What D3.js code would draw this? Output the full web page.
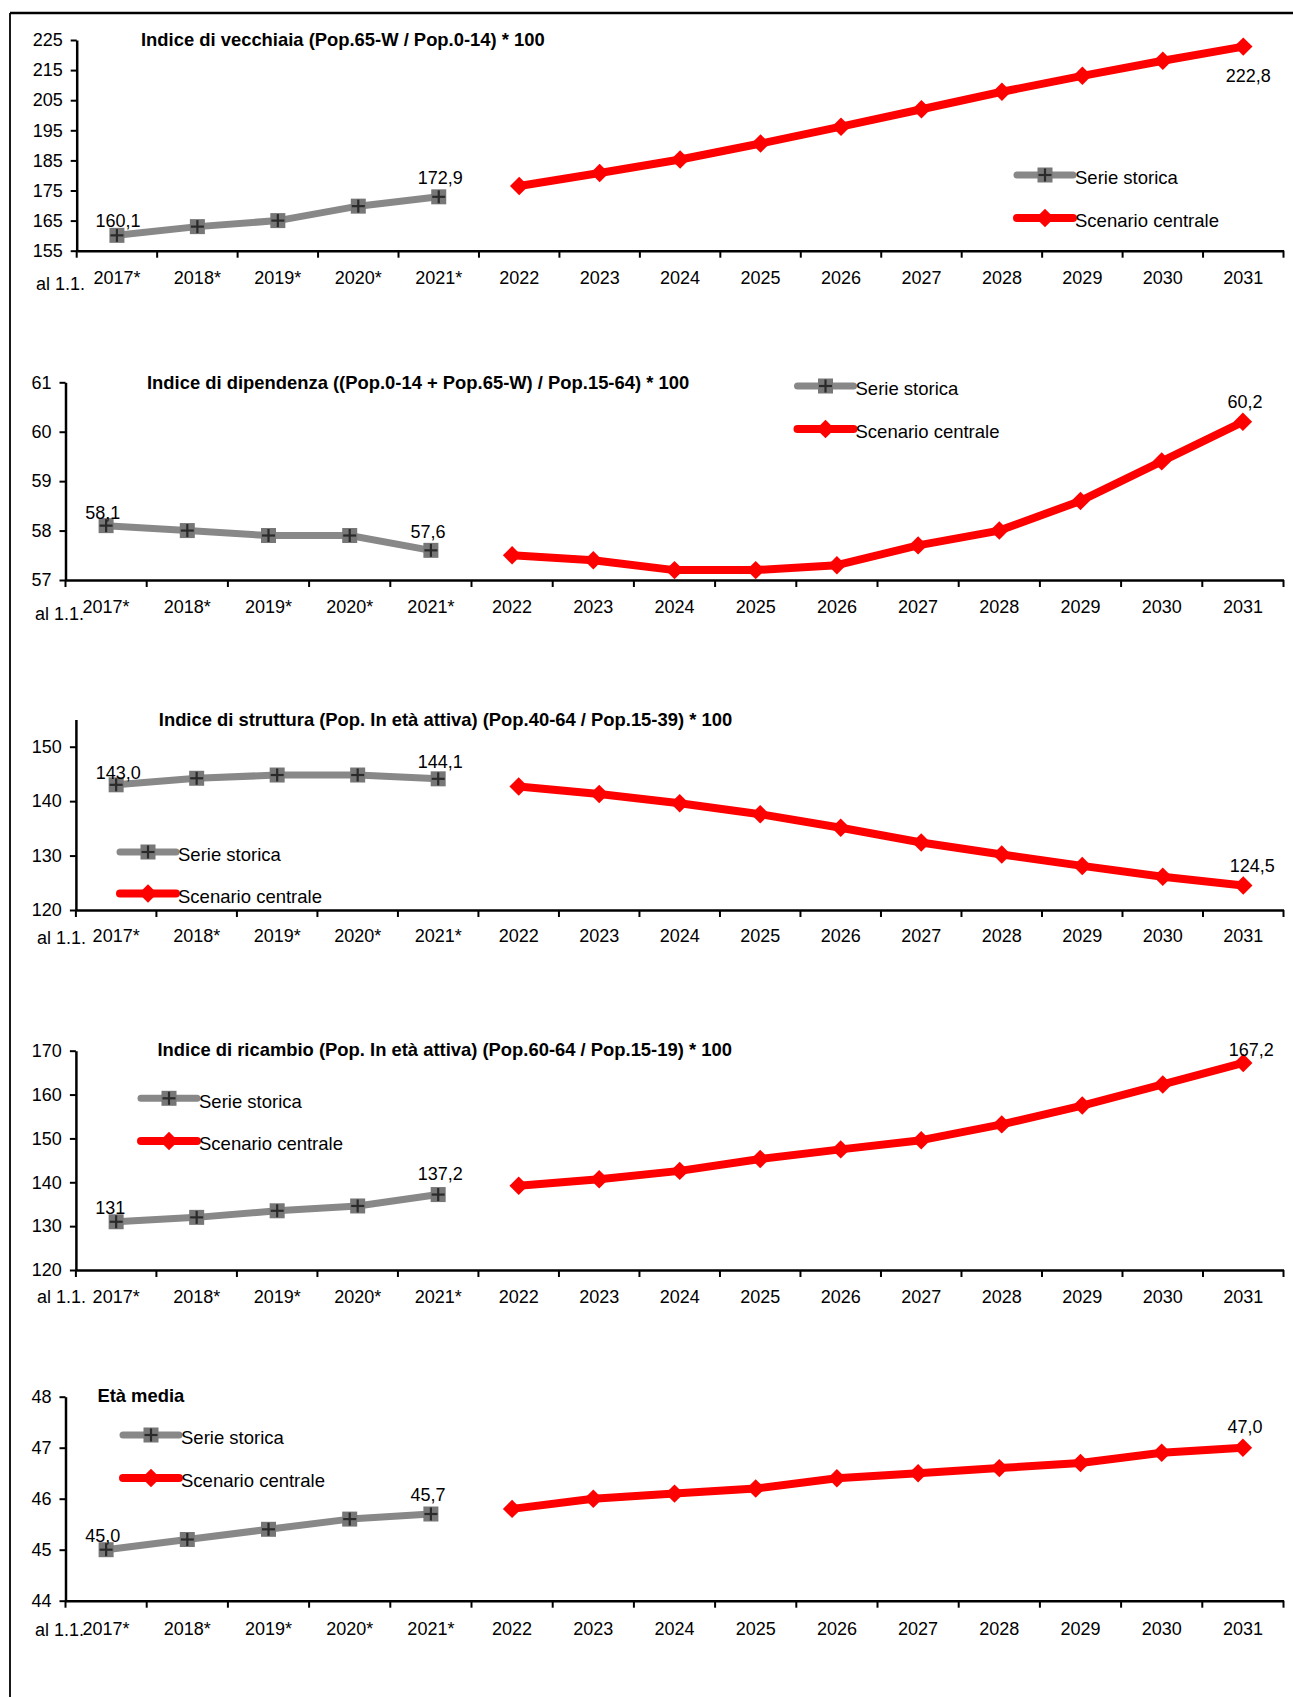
<!DOCTYPE html>
<html><head><meta charset="utf-8">
<script src="https://cdn.jsdelivr.net/npm/d3@7"></script>
<style>
body{margin:0;background:#fff;}
svg{display:block;font-family:"Liberation Sans",Arial,sans-serif;}
</style></head><body>
<svg id="chart" width="1293" height="1697"></svg>
<script>
// ---------- DATA ----------
const categories = ["2017*","2018*","2019*","2020*","2021*","2022","2023","2024","2025","2026","2027","2028","2029","2030","2031"];
const histCategories = categories.slice(0, 5);
const projCategories = categories.slice(5);
const legendLabels = ["Serie storica", "Scenario centrale"];
const axisPrefix = "al 1.1.";

const vecchiaiaTitle = "Indice di vecchiaia (Pop.65-W / Pop.0-14) * 100";
const vecchiaiaStorica = [160.1, 163.0, 165.0, 169.8, 172.9];
const vecchiaiaScenario = [176.5, 180.8, 185.3, 190.6, 196.2, 202.0, 207.8, 213.1, 218.1, 222.8];
const vecchiaiaTicks = [155, 165, 175, 185, 195, 205, 215, 225];
const vecchiaiaLabels = ["160,1", "172,9", "222,8"];

const dipendenzaTitle = "Indice di dipendenza ((Pop.0-14 + Pop.65-W) / Pop.15-64) * 100";
const dipendenzaStorica = [58.1, 58.0, 57.9, 57.9, 57.6];
const dipendenzaScenario = [57.5, 57.4, 57.2, 57.2, 57.3, 57.7, 58.0, 58.6, 59.4, 60.2];
const dipendenzaTicks = [57, 58, 59, 60, 61];
const dipendenzaLabels = ["58,1", "57,6", "60,2"];

const strutturaTitle = "Indice di struttura (Pop. In età attiva) (Pop.40-64 / Pop.15-39) * 100";
const strutturaStorica = [143.0, 144.2, 144.8, 144.8, 144.1];
const strutturaScenario = [142.7, 141.3, 139.6, 137.6, 135.1, 132.4, 130.2, 128.1, 126.1, 124.5];
const strutturaTicks = [120, 130, 140, 150];
const strutturaLabels = ["143,0", "144,1", "124,5"];

const ricambioTitle = "Indice di ricambio (Pop. In età attiva) (Pop.60-64 / Pop.15-19) * 100";
const ricambioStorica = [131.0, 132.0, 133.5, 134.6, 137.2];
const ricambioScenario = [139.2, 140.7, 142.6, 145.3, 147.5, 149.6, 153.2, 157.5, 162.3, 167.2];
const ricambioTicks = [120, 130, 140, 150, 160, 170];
const ricambioLabels = ["131", "137,2", "167,2"];

const etaTitle = "Età media";
const etaStorica = [45.0, 45.2, 45.4, 45.6, 45.7];
const etaScenario = [45.8, 46.0, 46.1, 46.2, 46.4, 46.5, 46.6, 46.7, 46.9, 47.0];
const etaTicks = [44, 45, 46, 47, 48];
const etaLabels = ["45,0", "45,7", "47,0"];

// ---------- LAYOUT ----------
const panels = [
  {title: vecchiaiaTitle, storica: vecchiaiaStorica, scenario: vecchiaiaScenario, ticks: vecchiaiaTicks, labels: vecchiaiaLabels,
   domain: [155, 225], yRange: [250.7, 40], xLeft: 76.7, titleX: 141, titleY: 40,
   legendX: 1017, legendY: [175, 218], tickLabelY: 278, prefix: [36, 284],
   offsets: [[1, -15], [1.5, -19.5], [5, 29]]},
  {title: dipendenzaTitle, storica: dipendenzaStorica, scenario: dipendenzaScenario, ticks: dipendenzaTicks, labels: dipendenzaLabels,
   domain: [57, 61], yRange: [580, 382.3], xLeft: 65.5, titleX: 147, titleY: 383,
   legendX: 797.5, legendY: [386, 429], tickLabelY: 606.7, prefix: [35, 613.3],
   offsets: [[-3.4, -12.7], [-3, -18.4], [2, -20]]},
  {title: strutturaTitle, storica: strutturaStorica, scenario: strutturaScenario, ticks: strutturaTicks, labels: strutturaLabels,
   domain: [120, 155], yRange: [910, 719.5], xLeft: 75.9, titleX: 158.8, titleY: 719.3,
   legendX: 120, legendY: [852, 893.5], tickLabelY: 936, prefix: [37, 938],
   offsets: [[2, -11.7], [2, -17.6], [9, -19.7]]},
  {title: ricambioTitle, storica: ricambioStorica, scenario: ricambioScenario, ticks: ricambioTicks, labels: ricambioLabels,
   domain: [120, 170], yRange: [1270, 1050.7], xLeft: 75.9, titleX: 157.5, titleY: 1050,
   legendX: 141, legendY: [1098.3, 1141], tickLabelY: 1296.7, prefix: [37, 1296.7],
   offsets: [[-6, -14], [2, -21], [8, -13.3]]},
  {title: etaTitle, storica: etaStorica, scenario: etaScenario, ticks: etaTicks, labels: etaLabels,
   domain: [44, 48], yRange: [1600.7, 1396.7], xLeft: 65.5, titleX: 97.4, titleY: 1396,
   legendX: 123, legendY: [1435, 1478], tickLabelY: 1628.3, prefix: [35, 1630],
   offsets: [[-3.4, -14], [-3, -19], [2, -21]]}
];
const xRight = 1283.5;
const FS = 18, FS_LEGEND = 18.5, FS_TITLE = 18.4;
const GRAY_LINE = "#888888", GRAY_MARK = "#777777", PLUS = "#2a2a2a", RED = "#ff0000";

const svg = d3.select("#chart");

// frame
svg.append("line").attr("x1", 10).attr("x2", 1293).attr("y1", 13).attr("y2", 13).attr("stroke", "#000").attr("stroke-width", 2.5);
svg.append("line").attr("x1", 10).attr("x2", 10).attr("y1", 13).attr("y2", 1697).attr("stroke", "#000").attr("stroke-width", 1.8);

function grayMarker(g, cx, cy) {
  g.append("rect").attr("x", cx - 7.5).attr("y", cy - 7.5).attr("width", 15).attr("height", 15).attr("fill", GRAY_MARK);
  g.append("line").attr("x1", cx - 6.5).attr("x2", cx + 6.5).attr("y1", cy).attr("y2", cy).attr("stroke", PLUS).attr("stroke-width", 2.2);
  g.append("line").attr("x1", cx).attr("x2", cx).attr("y1", cy - 6.5).attr("y2", cy + 6.5).attr("stroke", PLUS).attr("stroke-width", 2.2);
}
const diamond = d3.symbol(d3.symbolSquare, 170);
function redMarker(g, cx, cy) {
  g.append("path").attr("d", diamond()).attr("transform", `translate(${cx},${cy}) rotate(45)`).attr("fill", RED);
}

panels.forEach(p => {
  const g = svg.append("g");
  const x = d3.scaleBand().domain(categories).range([p.xLeft, xRight]).padding(0);
  const y = d3.scaleLinear().domain(p.domain).range(p.yRange);
  const cx = c => x(c) + x.bandwidth() / 2;
  const yBottom = p.yRange[0];

  // Y axis
  const ya = g.append("g").attr("transform", `translate(${p.xLeft},0)`)
    .call(d3.axisLeft(y).tickValues(p.ticks).tickSize(6).tickSizeOuter(0).tickPadding(8).tickFormat(d3.format("d")));
  ya.select(".domain").attr("stroke", "#000").attr("stroke-width", 2.5);
  ya.selectAll(".tick line").attr("stroke", "#000").attr("stroke-width", 2);
  ya.selectAll(".tick text").attr("font-size", FS).attr("font-family", "Liberation Sans, Arial, sans-serif").attr("fill", "#000");

  // X axis
  const xa = g.append("g").attr("transform", `translate(0,${yBottom})`)
    .call(d3.axisBottom(x).tickSize(0).tickSizeOuter(0));
  xa.select(".domain").attr("stroke", "#000").attr("stroke-width", 2.5);
  xa.selectAll(".tick text").attr("font-size", FS).attr("font-family", "Liberation Sans, Arial, sans-serif").attr("fill", "#000")
    .attr("y", p.tickLabelY - yBottom).attr("dy", "0.35em");
  const bounds = categories.map(c => x(c)).concat([x.range()[1]]);
  g.append("g").selectAll("line").data(bounds).join("line")
    .attr("x1", d => d).attr("x2", d => d).attr("y1", yBottom).attr("y2", yBottom + 7)
    .attr("stroke", "#000").attr("stroke-width", 2);
  g.append("text").attr("x", p.prefix[0]).attr("y", p.prefix[1]).attr("dy", "0.35em").attr("font-size", FS).text(axisPrefix);

  // Title
  g.append("text").attr("x", p.titleX).attr("y", p.titleY).attr("dy", "0.35em")
    .attr("font-size", FS_TITLE).attr("font-weight", "bold").text(p.title);

  // series
  const hist = histCategories.map((c, i) => ({c, v: p.storica[i]}));
  const proj = projCategories.map((c, i) => ({c, v: p.scenario[i]}));
  const line = d3.line().x(d => cx(d.c)).y(d => y(d.v));
  g.append("path").attr("d", line(hist)).attr("fill", "none").attr("stroke", GRAY_LINE).attr("stroke-width", 7).attr("stroke-linejoin", "round");
  g.append("path").attr("d", line(proj)).attr("fill", "none").attr("stroke", RED).attr("stroke-width", 8).attr("stroke-linejoin", "round");
  hist.forEach(d => grayMarker(g, cx(d.c), y(d.v)));
  proj.forEach(d => redMarker(g, cx(d.c), y(d.v)));

  // data labels
  const labelPoints = [hist[0], hist[hist.length - 1], proj[proj.length - 1]];
  labelPoints.forEach((d, i) => {
    g.append("text").attr("x", cx(d.c) + p.offsets[i][0]).attr("y", y(d.v) + p.offsets[i][1]).attr("dy", "0.35em")
      .attr("text-anchor", "middle").attr("font-size", FS).text(p.labels[i]);
  });

  // legend
  const lx = p.legendX, lw = 56;
  legendLabels.forEach((lab, i) => {
    const ly = p.legendY[i];
    g.append("line").attr("x1", lx).attr("x2", lx + lw).attr("y1", ly).attr("y2", ly)
      .attr("stroke", i === 0 ? GRAY_LINE : RED).attr("stroke-width", i === 0 ? 7 : 8).attr("stroke-linecap", "round");
    if (i === 0) grayMarker(g, lx + lw / 2, ly); else redMarker(g, lx + lw / 2, ly);
    g.append("text").attr("x", lx + lw + 2).attr("y", ly + 3).attr("dy", "0.35em").attr("font-size", FS_LEGEND).text(lab);
  });
});
</script>
</body></html>
